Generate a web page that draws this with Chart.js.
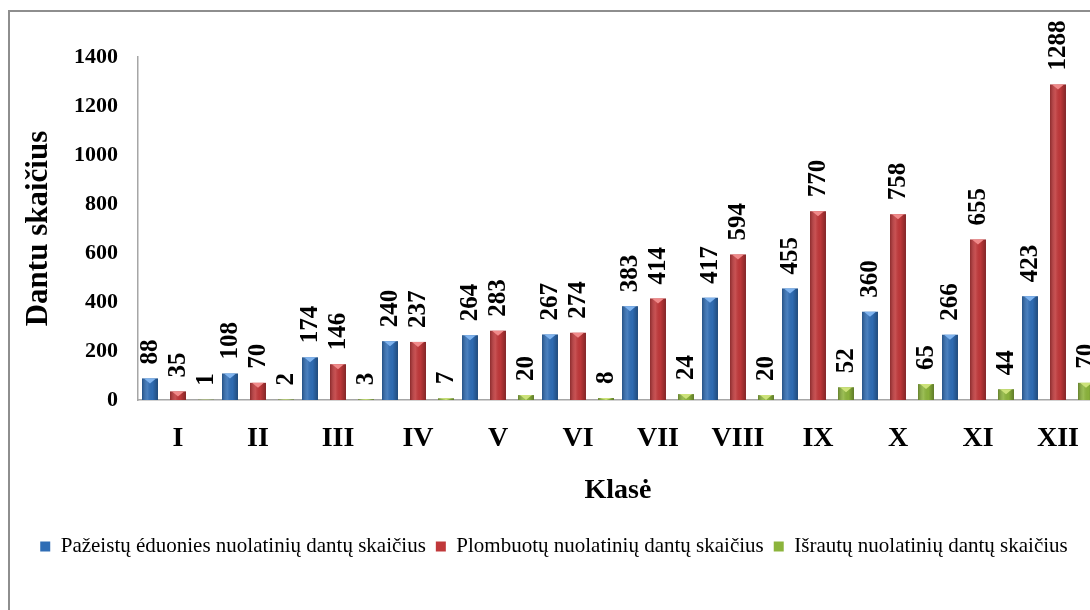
<!DOCTYPE html>
<html>
<head>
<meta charset="utf-8">
<script src="https://cdn.jsdelivr.net/npm/chart.js@4/dist/chart.umd.min.js"></script>
<style>
  html, body { margin: 0; padding: 0; background: #fff; overflow: hidden; }
  #wrap { position: relative; width: 1090px; height: 610px; overflow: hidden; }
  #frame { position: absolute; left: 8px; top: 10px; width: 1200px; height: 700px; border: 2px solid #8e8e8e; }
  #box { position: absolute; left: 0; top: 0; width: 1110px; height: 610px; }
</style>
</head>
<body>
<div id="wrap">
  <div id="frame"></div>
  <div id="box"><canvas id="chart"></canvas></div>
</div>
<script>
// values
const classes = ['I', 'II', 'III', 'IV', 'V', 'VI', 'VII', 'VIII', 'IX', 'X', 'XI', 'XII'];
const damaged = [88, 108, 174, 240, 264, 267, 383, 417, 455, 360, 266, 423];
const filled = [35, 70, 146, 237, 283, 274, 414, 594, 770, 758, 655, 1288];
const extracted = [1, 2, 3, 7, 20, 8, 24, 20, 52, 65, 44, 70];
const seriesNames = [
  'Pažeistų éduonies nuolatinių dantų skaičius',
  'Plombuotų nuolatinių dantų skaičius',
  'Išrautų nuolatinių dantų skaičius'
];
const yMin = 0, yMax = 1400, yStep = 200;

const serif = "'Liberation Serif', 'Times New Roman', serif";
const colors = ['#2f6db5', '#c0383a', '#8cb43c'];
const tips = ['#7fb3ee', '#f08a8a', '#cde27a'];

// excel-ish shading on every bar + the little bevel triangle on top
const barShade = {
  id: 'barShade',
  afterDatasetsDraw(chart) {
    const ctx = chart.ctx;
    chart.data.datasets.forEach((ds, di) => {
      chart.getDatasetMeta(di).data.forEach(bar => {
        const w = bar.width, l = bar.x - w / 2, top = bar.y, h = bar.base - bar.y;
        if (h <= 0) return;
        const g = ctx.createLinearGradient(l, 0, l + w, 0);
        g.addColorStop(0, 'rgba(0,0,0,0.28)');
        g.addColorStop(0.35, 'rgba(255,255,255,0.12)');
        g.addColorStop(0.65, 'rgba(0,0,0,0.02)');
        g.addColorStop(1, 'rgba(0,0,0,0.32)');
        ctx.save();
        ctx.fillStyle = g;
        ctx.fillRect(l, top, w, h);
        const th = Math.min(5, h);
        ctx.fillStyle = tips[di];
        ctx.beginPath();
        ctx.moveTo(l + 2, top);
        ctx.lineTo(l + w - 2, top);
        ctx.lineTo(bar.x, top + th);
        ctx.closePath();
        ctx.fill();
        ctx.restore();
      });
    });
  }
};

// rotated value labels above bars
const valueLabels = {
  id: 'valueLabels',
  afterDatasetsDraw(chart) {
    const ctx = chart.ctx;
    ctx.save();
    ctx.font = 'bold 25px ' + serif;
    ctx.fillStyle = '#000';
    ctx.textAlign = 'left';
    ctx.textBaseline = 'middle';
    chart.data.datasets.forEach((ds, di) => {
      chart.getDatasetMeta(di).data.forEach((bar, i) => {
        ctx.save();
        ctx.translate(bar.x + 1, bar.y - 14);
        ctx.rotate(-Math.PI / 2);
        ctx.fillText(String(ds.data[i]), 0, 0);
        ctx.restore();
      });
    });
    ctx.restore();
  }
};

new Chart(document.getElementById('chart'), {
  type: 'bar',
  data: {
    labels: classes,
    datasets: [
      { label: seriesNames[0], data: damaged, backgroundColor: colors[0] },
      { label: seriesNames[1], data: filled, backgroundColor: colors[1] },
      { label: seriesNames[2], data: extracted, backgroundColor: colors[2] }
    ]
  },
  options: {
    responsive: true,
    maintainAspectRatio: false,
    animation: false,
    categoryPercentage: 1.05,
    barPercentage: 0.57,
    layout: { padding: { left: 10, right: 12, top: 57, bottom: 43 } },
    scales: {
      x: {
        grid: { display: false, drawTicks: false },
        border: { display: true, color: '#a6a6a6', width: 1.5 },
        ticks: { color: '#000', font: { family: serif, size: 28, weight: 'bold' }, padding: 22, maxRotation: 0 },
        title: { display: true, text: 'Klasė', color: '#000', font: { family: serif, size: 28, weight: 'bold' }, padding: { top: 0, bottom: 18 } },
        afterFit(scale) { scale.height = 126; }
      },
      y: {
        min: yMin,
        max: yMax,
        grid: { display: false, drawTicks: false },
        border: { display: true, color: '#a6a6a6', width: 1.5 },
        ticks: { stepSize: yStep, color: '#000', font: { family: serif, size: 22, weight: 'bold' }, padding: 20, callback: v => String(v) },
        title: { display: true, text: 'Dantu skaičius', color: '#000', font: { family: serif, size: 31, weight: 'bold' }, padding: { top: 10, bottom: 0 } },
        afterFit(scale) { scale.width = 128; }
      }
    },
    plugins: {
      legend: {
        position: 'bottom',
        labels: { boxWidth: 10, boxHeight: 10, padding: 10, color: '#000', font: { family: serif, size: 21 } }
      },
      tooltip: { enabled: false }
    }
  },
  plugins: [barShade, valueLabels]
});
</script>
</body>
</html>
